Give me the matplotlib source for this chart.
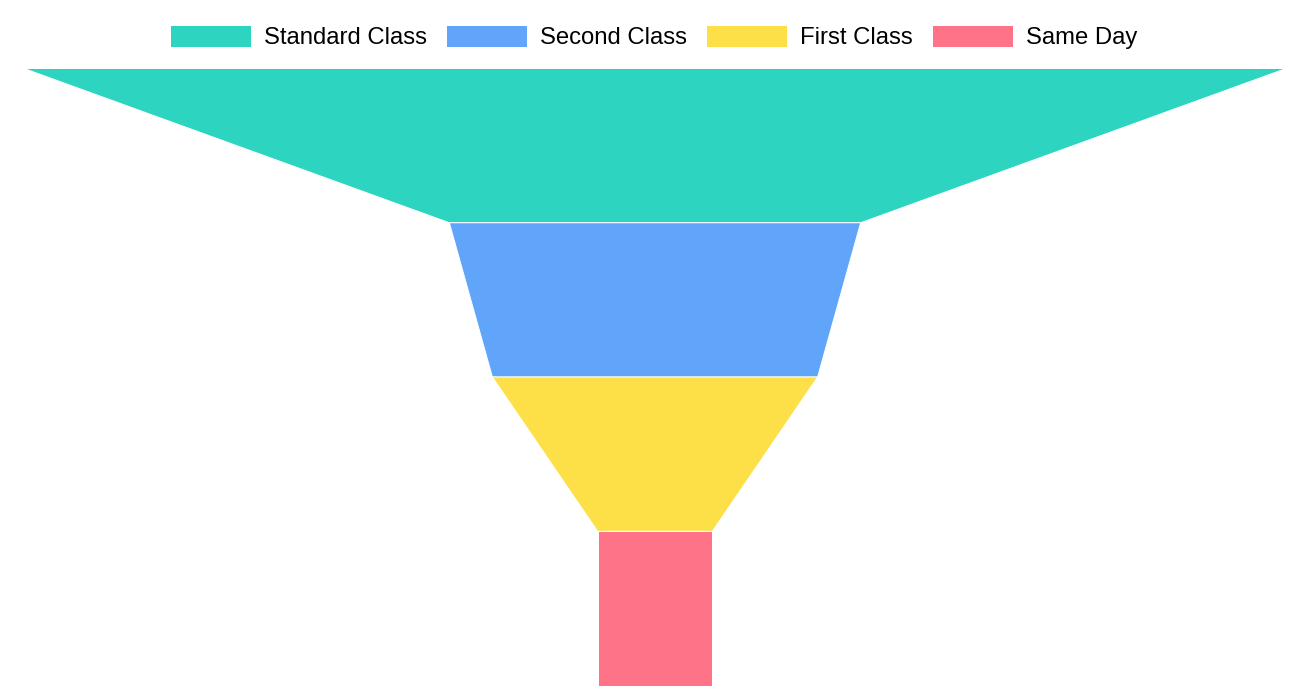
import matplotlib
matplotlib.use("Agg")
import matplotlib.pyplot as plt
from matplotlib.patches import Polygon, Patch

categories = ["Standard Class", "Second Class", "First Class", "Same Day"]
values = [5968, 1945, 1538, 543]
colors = ["#2dd4bf", "#60a5fa", "#fde047", "#fe7387"]

plt.rcParams['font.family'] = ['Liberation Sans', 'DejaVu Sans']

W, H = 1310, 692
fig = plt.figure(figsize=(W / 100, H / 100), dpi=100)
ax = fig.add_axes([24 / W, (H - 685.5) / H, 1262 / W, 617 / H])
vmax = max(values)
ax.set_xlim(-vmax / 2, vmax / 2)
ax.set_ylim(len(values), 0)
ax.axis("off")

n = len(values)
for i, (v, c) in enumerate(zip(values, colors)):
    nxt = values[i + 1] if i + 1 < n else v
    poly = Polygon([(-v / 2, i), (v / 2, i), (nxt / 2, i + 1), (-nxt / 2, i + 1)],
                   closed=True, facecolor=c, edgecolor="white", linewidth=0.7)
    ax.add_patch(poly)

handles = [Patch(facecolor=c, edgecolor="none") for c in colors]
fs = 17.2
leg = fig.legend(handles, categories, loc="center", bbox_to_anchor=(654 / W, 1 - 37.5 / H),
                 ncol=4, frameon=False, fontsize=fs, handlelength=3.35, handleheight=0.98,
                 handletextpad=0.54, columnspacing=0.84, borderpad=0, borderaxespad=0)

fig.savefig("out.png", dpi=100)
